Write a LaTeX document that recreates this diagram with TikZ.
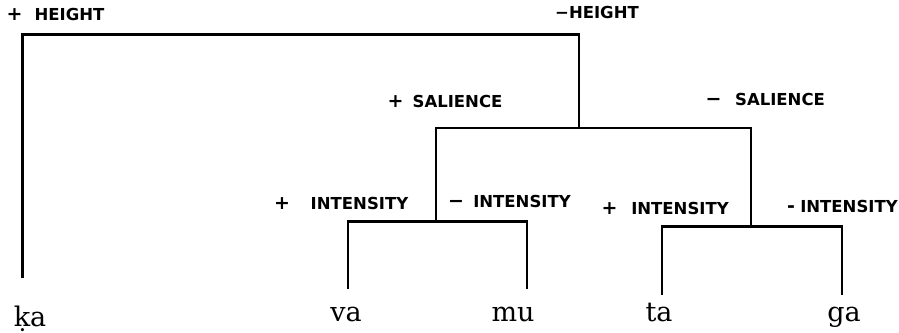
\documentclass[tikz,border=0pt]{standalone}
\usepackage{fontspec}
\newfontfamily\lblfont{DejaVu Sans}
\newfontfamily\sylfont{DejaVu Serif}
\tikzset{
  branch/.style={line width=2.1pt, line cap=rect, line join=miter},
  lbl/.style={inner sep=0pt, anchor=base, font=\lblfont\bfseries\fontsize{16.5}{16.5}\selectfont},
  sgn/.style={inner sep=0pt, anchor=base, font=\lblfont\bfseries\fontsize{19}{19}\selectfont},
  syl/.style={inner sep=0pt, anchor=base, font=\sylfont\fontsize{27}{27}\selectfont}
}
\begin{document}
\begin{tikzpicture}[x=1pt,y=-1pt]
\useasboundingbox (0,0) rectangle (899,332);
% leaves
\node[syl] (ka) at (30,326) {ḳa};
\node[syl] (va) at (346,321) {va};
\node[syl] (mu) at (513,321) {mu};
\node[syl] (ta) at (659,321) {ta};
\node[syl] (ga) at (844,321) {ga};
% line ends above leaves
\coordinate (kaend) at (22.5,277);
\coordinate (vaend) at (348,288);
\coordinate (muend) at (527,288);
\coordinate (taend) at (662,294);
\coordinate (gaend) at (842,294);
% junctions
\coordinate (top) at (300,34.5);
\coordinate (sal) at (579,128);
\coordinate (intA) at (436,221.5);
\coordinate (intB) at (751,226.5);
% tree
\draw[branch] (kaend) |- (top) -| (sal);
\draw[branch] (intA) |- (sal) -| (intB);
\draw[branch] (vaend) |- (intA) -| (muend);
\draw[branch] (taend) |- (intB) -| (gaend);
% labels
\node[sgn] (hps) at (14.5,20) {+};
\node[lbl] (hp) at (69.5,20) {HEIGHT};
\node[lbl] (hm) at (597,18) {−HEIGHT};
\node[sgn] (sps) at (395.5,107) {+};
\node[lbl] (sp) at (457.5,107) {SALIENCE};
\node[sgn] (sms) at (713.5,105) {−};
\node[lbl] (sm) at (780,105) {SALIENCE};
\node[sgn] (ips1) at (282,209) {+};
\node[lbl] (ip1) at (359.5,209) {INTENSITY};
\node[sgn] (ims1) at (456,207) {−};
\node[lbl] (im1) at (522,207) {INTENSITY};
\node[sgn] (ips2) at (609.5,214) {+};
\node[lbl] (ip2) at (680,214) {INTENSITY};
\node[sgn] (ims2) at (791,212) {-};
\node[lbl] (im2) at (849,212) {INTENSITY};
\end{tikzpicture}
\end{document}
